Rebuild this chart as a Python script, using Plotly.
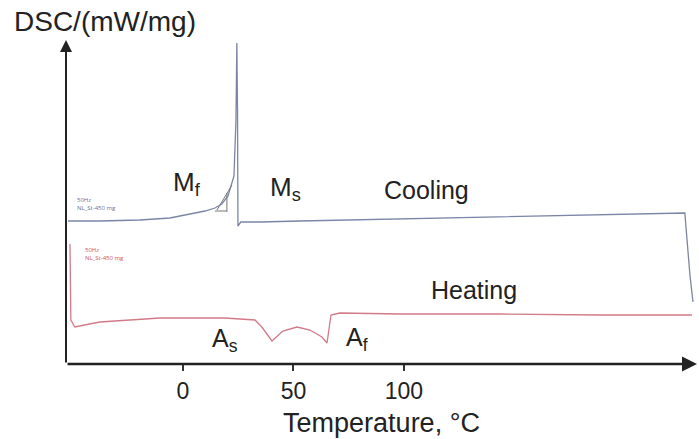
import plotly.graph_objects as go

# cooling run (temperature in degC, DSC in mW/mg, arbitrary offset)
cool_t = [-52.0, -37.6, -19.5, -5.9, 3.2, 10.0, 14.5, 17.6, 20.4, 22.2, 23.1, 24.0, 24.4, 24.7,
          24.9, 26.2, 34.8, 52.9, 98.2, 143.4, 188.7, 227.1, 228.1, 229.4, 230.8]
cool_dsc = [1.43, 1.43, 1.44, 1.46, 1.50, 1.53, 1.56, 1.60, 1.68, 1.81, 1.88, 2.44, 3.21, 2.54,
            1.38, 1.42, 1.42, 1.43, 1.45, 1.47, 1.49, 1.51, 1.24, 0.89, 0.62]

# heating run
heat_t = [-51.1, -50.7, -48.9, -44.3, -37.6, -24.0, -10.4, 7.7, 19.0, 25.8, 32.6, 35.7, 40.3,
          45.2, 51.6, 57.5, 62.9, 65.2, 67.0, 71.0, 98.2, 143.4, 188.7, 230.3]
heat_dsc = [1.20, 0.44, 0.37, 0.39, 0.42, 0.44, 0.46, 0.46, 0.46, 0.45, 0.44, 0.37, 0.23,
            0.33, 0.37, 0.34, 0.27, 0.21, 0.49, 0.51, 0.50, 0.50, 0.49, 0.49]

# tangent construction for Mf
tan_t = [14.5, 19.9, None, 19.9, 19.9, None, 15.4, 22.2]
tan_dsc = [1.53, 1.53, None, 1.52, 1.71, None, 1.54, 1.79]

tick_vals = [0, 50, 100]
x_range = [-52.9, 232.6]
y_range = [0, 3.24]

font_main = "Liberation Sans, Arial, sans-serif"

fig = go.Figure()
fig.add_trace(go.Scatter(x=cool_t, y=cool_dsc, mode="lines",
                         line=dict(color="#7b86a6", width=1.3), hoverinfo="skip"))
fig.add_trace(go.Scatter(x=heat_t, y=heat_dsc, mode="lines",
                         line=dict(color="#d27a86", width=1.3), hoverinfo="skip"))
fig.add_trace(go.Scatter(x=tan_t, y=tan_dsc, mode="lines",
                         line=dict(color="#777777", width=1), hoverinfo="skip"))

labels = [
    ("M<sub>f</sub>", 1.8, 1.81, 26),
    ("M<sub>s</sub>", 46.6, 1.76, 26),
    ("Cooling", 110.4, 1.74, 25),
    ("Heating", 131.7, 0.74, 25),
    ("A<sub>s</sub>", 19.0, 0.24, 25),
    ("A<sub>f</sub>", 78.7, 0.25, 25),
]
for txt, x, y, s in labels:
    fig.add_annotation(x=x, y=y, text=txt, showarrow=False,
                       font=dict(family=font_main, size=s, color="#222222"))

# small instrument labels
fig.add_annotation(x=-49.0, y=1.60, text="50Hz<br>NL_St-450 mg", showarrow=False,
                   xanchor="left", align="left", font=dict(size=6, color="#6070a0"))
fig.add_annotation(x=-45.0, y=1.10, text="50Hz<br>NL_St-450 mg", showarrow=False,
                   xanchor="left", align="left", font=dict(size=6, color="#d05060"))

# axis arrows
fig.add_annotation(x=x_range[0], y=y_range[1], ax=x_range[0], ay=y_range[0],
                   xref="x", yref="y", axref="x", ayref="y", text="", showarrow=True,
                   arrowhead=2, arrowsize=1.2, arrowwidth=2, arrowcolor="#222222")
fig.add_annotation(x=x_range[1], y=y_range[0], ax=x_range[0], ay=y_range[0],
                   xref="x", yref="y", axref="x", ayref="y", text="", showarrow=True,
                   arrowhead=2, arrowsize=1.2, arrowwidth=2.5, arrowcolor="#222222")

fig.add_annotation(x=0, y=1, xref="paper", yref="paper", xanchor="left", yanchor="bottom",
                   xshift=-54, yshift=1, text="DSC/(mW/mg)", showarrow=False,
                   font=dict(family=font_main, size=28, color="#222222"))

fig.update_xaxes(range=x_range, tickvals=tick_vals, ticks="outside", ticklen=6,
                 tickwidth=1.5, tickcolor="#333333", showgrid=False, zeroline=False,
                 showline=False, tickfont=dict(family=font_main, size=23, color="#222222"),
                 title=dict(text="Temperature, °C", standoff=10,
                            font=dict(family=font_main, size=27, color="#222222")))
fig.update_yaxes(range=y_range, showticklabels=False, showgrid=False, zeroline=False,
                 showline=False, ticks="")

fig.update_layout(width=699, height=439, margin=dict(l=66, r=2, t=40, b=75),
                  paper_bgcolor="white", plot_bgcolor="white", showlegend=False)

fig.write_html("out.html", config={"displayModeBar": False},
               post_script="document.body.style.margin='0';")
